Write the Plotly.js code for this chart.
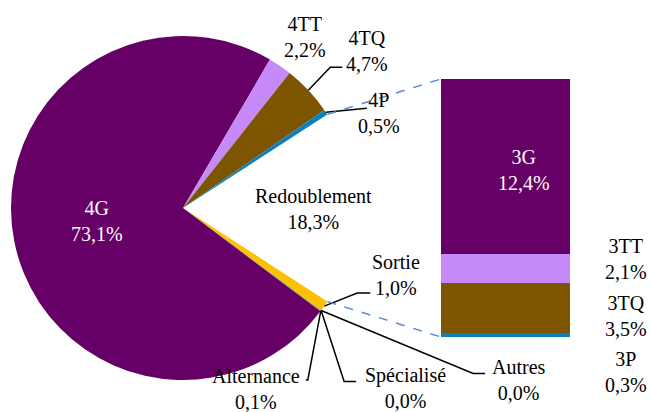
<!DOCTYPE html>
<html>
<head>
<meta charset="utf-8">
<script src="https://cdn.plot.ly/plotly-3.0.1.min.js"></script>
<style>html,body{margin:0;padding:0;background:#fff;}#chart{width:652px;height:412px;}</style>
</head>
<body>
<div id="chart"></div>
<script>
// ---- data ----
const pieLabels = ['Redoublement', 'Sortie', 'Autres', 'Spécialisé', 'Alternance', '4G', '4TT', '4TQ', '4P'];
const pieValues = [18.3, 1.0, 0.0, 0.0, 0.1, 73.1, 2.2, 4.7, 0.5];
const pieColors = ['#ffffff', '#ffc000', '#a5a5a5', '#4472c4', '#70ad47', '#660066', '#c58af8', '#7d5500', '#0b7fc0'];

const barLabels = ['3P', '3TQ', '3TT', '3G'];
const barValues = [0.3, 3.5, 2.1, 12.4];
const barColors = ['#0b7fc0', '#7d5500', '#c58af8', '#660066'];

// ---- layout/style ----
const W = 652, H = 412;
const FONT = 'Liberation Serif, DejaVu Serif, serif';
const FS = 20;
const pieBox = {x0: 11, x1: 355, y0: 36, y1: 380};
const barBox = {x0: 441, x1: 570, y0: 79, y1: 337};
const cx = (pieBox.x0 + pieBox.x1) / 2, cy = (pieBox.y0 + pieBox.y1) / 2;
const R = Math.min(pieBox.x1 - pieBox.x0, pieBox.y1 - pieBox.y0) / 2;

// label offsets (pixels) relative to the slice's outer mid point
const pieLabelStyle = {
  'Redoublement': {mode: 'inside', frac: 0.75, color: '#000000', dx: 1, dy: 1},
  '4G': {mode: 'inside', frac: 0.51, color: '#ffffff', dx: 0, dy: -4},
  '4TT': {mode: 'out', label: [25, -29]},
  '4TQ': {mode: 'out', label: [59, -39], path: [[22, -23], [34, -23]]},
  '4P': {mode: 'out', label: [53, 1], path: [[41, -4]]},
  'Sortie': {mode: 'out', label: [72, -31], path: [[33, -13], [46, -13]]},
  'Alternance': {mode: 'out', label: [-65, 78], path: [[-13, 69], [-15, 69]]},
  'Spécialisé': {mode: 'out', label: [84, 78], path: [[23, 71], [35, 71]]},
  'Autres': {mode: 'out', label: [198, 70], path: [[152, 63], [164, 63]]}
};
const barLabelStyle = {
  '3G': {inside: true, xshift: 18, yshift: -4},
  '3TT': {yshift: 10},
  '3TQ': {yshift: -8},
  '3P': {yshift: -37}
};

const fmt = v => v.toFixed(1).replace('.', ',') + '%';
const total = pieValues.reduce((a, b) => a + b, 0);
const redIdx = pieLabels.indexOf('Redoublement');
const rotation = 90 - (pieValues[redIdx] / total) * 180;

function px(angleDeg, frac) {
  const a = angleDeg * Math.PI / 180;
  return [cx + R * frac * Math.sin(a), cy - R * frac * Math.cos(a)];
}
const toPaper = p => [p[0] / W, 1 - p[1] / H];

const annotations = [];
const shapes = [];
let acc = rotation;
const edges = [];
pieValues.forEach((v, i) => {
  const span = v / total * 360;
  const a0 = acc, a1 = acc + span, mid = (a0 + a1) / 2;
  edges.push([a0, a1]);
  acc = a1;
  const st = pieLabelStyle[pieLabels[i]];
  const text = pieLabels[i] + '<br>' + fmt(v);
  let color = '#000000', pos;
  if (st.mode === 'inside') {
    const p = px(mid, st.frac);
    pos = [p[0] + st.dx, p[1] + st.dy];
    color = st.color;
  } else {
    const p = px(mid, 1);
    pos = [p[0] + st.label[0], p[1] + st.label[1]];
    if (st.path) {
      let d = 'M ' + toPaper(p).join(',');
      st.path.forEach(o => { d += ' L ' + toPaper([p[0] + o[0], p[1] + o[1]]).join(','); });
      shapes.push({type: 'path', xref: 'paper', yref: 'paper', path: d, line: {color: '#000000', width: 1.5}});
    }
  }
  const pp = toPaper(pos);
  annotations.push({text: text, x: pp[0], y: pp[1], xref: 'paper', yref: 'paper', showarrow: false,
    xanchor: 'center', yanchor: 'middle', font: {family: FONT, size: FS, color: color}});
});

const barTotal = barValues.reduce((a, b) => a + b, 0);
let cum = 0;
const barTraces = [];
barValues.forEach((v, i) => {
  const mid = cum + v / 2;
  cum += v;
  barTraces.push({type: 'bar', x: ['bar'], y: [v], marker: {color: barColors[i], line: {width: 0}},
    hoverinfo: 'none', showlegend: false, xaxis: 'x', yaxis: 'y', textposition: 'none'});
  const st = barLabelStyle[barLabels[i]];
  const text = barLabels[i] + '<br>' + fmt(v);
  if (st.inside) {
    annotations.push({text: text, x: 0, xref: 'x', y: mid, yref: 'y', showarrow: false, xshift: st.xshift, yshift: st.yshift,
      xanchor: 'center', yanchor: 'middle', font: {family: FONT, size: FS, color: '#ffffff'}});
  } else {
    annotations.push({text: text, x: 626 / W, xref: 'paper', y: mid, yref: 'y', showarrow: false, yshift: st.yshift,
      xanchor: 'center', yanchor: 'middle', font: {family: FONT, size: FS, color: '#000000'}});
  }
});

// connector lines from the Redoublement slice to the bar
const redEdge = edges[redIdx];
const pTop = toPaper(px(redEdge[0], 1)), pBot = toPaper(px(redEdge[1], 1));
shapes.push({type: 'line', xref: 'paper', yref: 'paper', x0: pTop[0], y0: pTop[1], x1: barBox.x0 / W, y1: 1 - barBox.y0 / H,
  line: {color: '#5b8bd0', width: 1.5, dash: 'dash'}});
shapes.push({type: 'line', xref: 'paper', yref: 'paper', x0: pBot[0], y0: pBot[1], x1: barBox.x0 / W, y1: 1 - barBox.y1 / H,
  line: {color: '#5b8bd0', width: 1.5, dash: 'dash'}});

const pie = {
  type: 'pie', labels: pieLabels, values: pieValues, sort: false, direction: 'clockwise', rotation: rotation,
  marker: {colors: pieColors, line: {width: 0}}, textinfo: 'none', hoverinfo: 'none', showlegend: false,
  domain: {x: [pieBox.x0 / W, pieBox.x1 / W], y: [1 - pieBox.y1 / H, 1 - pieBox.y0 / H]}
};

const layout = {
  width: W, height: H, margin: {l: 0, r: 0, t: 0, b: 0}, paper_bgcolor: '#ffffff', plot_bgcolor: 'rgba(0,0,0,0)',
  barmode: 'stack', bargap: 0, showlegend: false, separators: ', ',
  xaxis: {domain: [barBox.x0 / W, barBox.x1 / W], range: [-0.5, 0.5], visible: false, fixedrange: true},
  yaxis: {domain: [1 - barBox.y1 / H, 1 - barBox.y0 / H], range: [0, barTotal], visible: false, fixedrange: true},
  annotations: annotations, shapes: shapes,
  font: {family: FONT, size: FS, color: '#000000'}
};

Plotly.newPlot('chart', [pie].concat(barTraces), layout, {staticPlot: true, displayModeBar: false});
</script>
</body>
</html>
